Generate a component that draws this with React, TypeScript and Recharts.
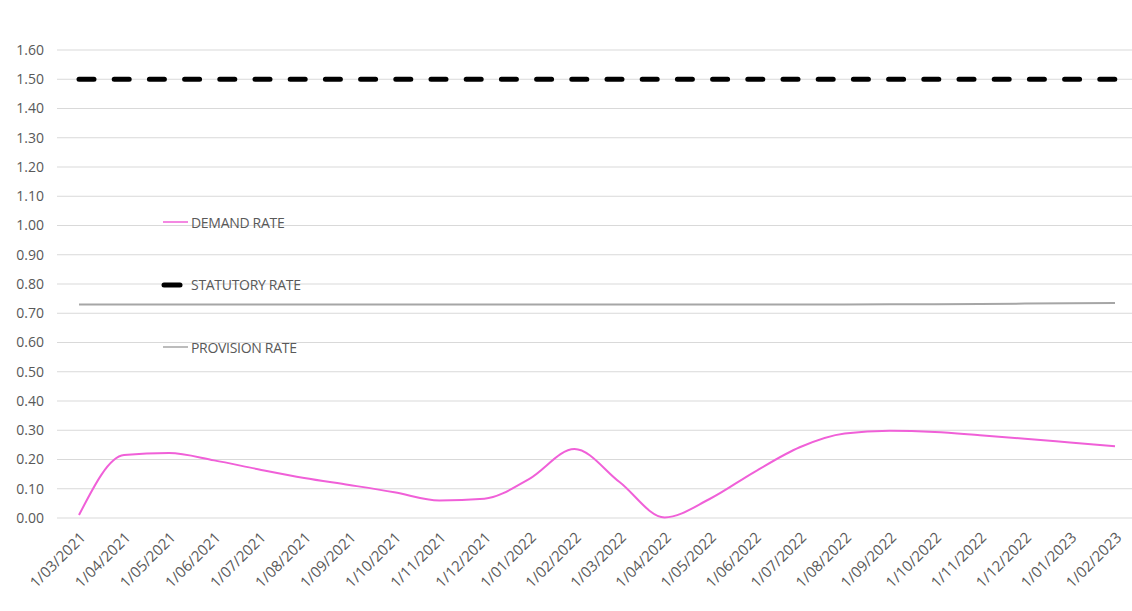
import React from 'react';
import { LineChart, Line, XAxis, YAxis, CartesianGrid, Legend } from 'recharts';

const months = [
  '1/03/2021', '1/04/2021', '1/05/2021', '1/06/2021', '1/07/2021', '1/08/2021',
  '1/09/2021', '1/10/2021', '1/11/2021', '1/12/2021', '1/01/2022', '1/02/2022',
  '1/03/2022', '1/04/2022', '1/05/2022', '1/06/2022', '1/07/2022', '1/08/2022',
  '1/09/2022', '1/10/2022', '1/11/2022', '1/12/2022', '1/01/2023', '1/02/2023',
];

const demandRate = [
  0.01, 0.215, 0.222, 0.197, 0.166, 0.137, 0.113, 0.088, 0.06, 0.066, 0.134, 0.236,
  0.123, 0.002, 0.065, 0.158, 0.242, 0.289, 0.298, 0.294, 0.283, 0.271, 0.258, 0.245,
];

const statutoryRate = months.map(() => 1.5);

const provisionRate = [
  0.73, 0.73, 0.73, 0.73, 0.73, 0.73, 0.73, 0.73, 0.73, 0.73, 0.73, 0.73,
  0.73, 0.73, 0.73, 0.73, 0.73, 0.73, 0.731, 0.731, 0.732, 0.733, 0.734, 0.735,
];

const yTicks = [0, 0.1, 0.2, 0.3, 0.4, 0.5, 0.6, 0.7, 0.8, 0.9, 1.0, 1.1, 1.2, 1.3, 1.4, 1.5, 1.6];

const data = months.map((m, i) => ({
  month: m,
  demand: demandRate[i],
  statutory: statutoryRate[i],
  provision: provisionRate[i],
}));

const FONT = '"Open Sans", "DejaVu Sans", sans-serif';
const TEXT = '#595959';
const PINK = '#f060d8';
const GREY = '#a6a6a6';

// legend drawn inside the plot, like the original
const legendItems = [
  { label: 'DEMAND RATE', color: PINK, width: 1.5, short: false },
  { label: 'STATUTORY RATE', color: '#000000', width: 5, short: true },
  { label: 'PROVISION RATE', color: GREY, width: 1.5, short: false },
];

const renderLegend = () => (
  <div style={{ fontFamily: FONT, fontSize: 14, color: TEXT }}>
    {legendItems.map((item) => (
      <div key={item.label} style={{ display: 'flex', alignItems: 'center', height: 62.5 }}>
        <svg width={30} height={10} style={{ display: 'block' }}>
          {item.short ? (
            <line x1={3} y1={5} x2={19} y2={5} stroke={item.color} strokeWidth={item.width} strokeLinecap="round" />
          ) : (
            <line x1={2} y1={5} x2={27} y2={5} stroke={item.color} strokeWidth={item.width} />
          )}
        </svg>
        <span style={{ whiteSpace: 'nowrap', letterSpacing: -0.3 }}>{item.label}</span>
      </div>
    ))}
  </div>
);

export default function App() {
  return (
    <div style={{ position: 'absolute', left: 0, top: 0, width: 1132, height: 611, overflow: 'hidden', background: '#fff' }}>
      <LineChart width={1150} height={611} data={data} margin={{ top: 50, right: 13, bottom: 0, left: 0 }}>
        <CartesianGrid vertical={false} stroke="#d9d9d9" />
        <XAxis
          dataKey="month"
          interval={0}
          padding={{ left: 22, right: 22 }}
          axisLine={false}
          tickLine={false}
          tickSize={0}
          tickMargin={13}
          height={93}
          tick={{ angle: -45, textAnchor: 'end', fontSize: 15, fill: TEXT, fontFamily: FONT }}
        />
        <YAxis
          domain={[0, 1.6]}
          ticks={yTicks}
          interval={0}
          width={57}
          axisLine={false}
          tickLine={false}
          tickSize={0}
          tickMargin={13}
          tickFormatter={(v: number) => v.toFixed(2)}
          tick={{ fontSize: 14, fill: TEXT, fontFamily: FONT }}
        />
        <Legend
          layout="vertical"
          align="center"
          verticalAlign="middle"
          content={renderLegend}
          wrapperStyle={{ left: 161, top: 191, width: 200, height: 190 }}
        />
        <Line
          dataKey="statutory"
          name="STATUTORY RATE"
          stroke="#000"
          strokeWidth={5}
          strokeDasharray="15 20.2"
          strokeLinecap="round"
          dot={false}
          activeDot={false}
          isAnimationActive={false}
        />
        <Line
          dataKey="provision"
          name="PROVISION RATE"
          stroke={GREY}
          strokeWidth={2}
          dot={false}
          activeDot={false}
          isAnimationActive={false}
        />
        <Line
          type="monotone"
          dataKey="demand"
          name="DEMAND RATE"
          stroke={PINK}
          strokeWidth={2}
          dot={false}
          activeDot={false}
          isAnimationActive={false}
        />
      </LineChart>
    </div>
  );
}
